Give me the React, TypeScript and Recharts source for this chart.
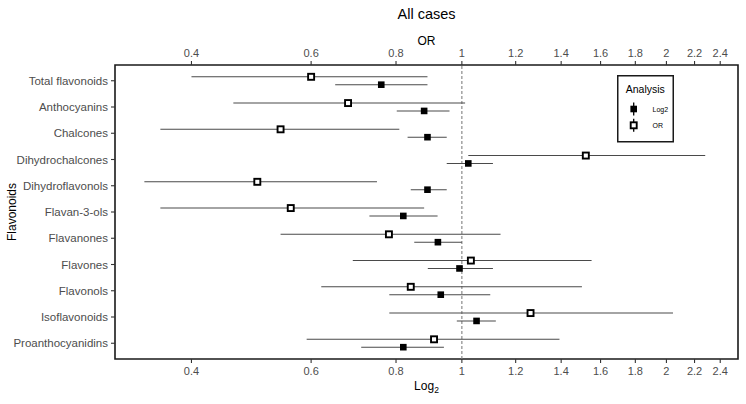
import React from 'react';
import {
  ScatterChart,
  Scatter,
  XAxis,
  YAxis,
  ErrorBar,
  ReferenceLine,
  ReferenceArea,
  Legend,
} from 'recharts';

const FONT = '"Liberation Sans", Arial, Helvetica, sans-serif';

const categories = [
  'Total flavonoids',
  'Anthocyanins',
  'Chalcones',
  'Dihydrochalcones',
  'Dihydroflavonols',
  'Flavan-3-ols',
  'Flavanones',
  'Flavones',
  'Flavonols',
  'Isoflavonoids',
  'Proanthocyanidins',
];

const orEstimate = [0.6, 0.68, 0.541, 1.522, 0.5, 0.56, 0.781, 1.031, 0.841, 1.262, 0.91];
const orLower = [0.4, 0.461, 0.36, 1.022, 0.341, 0.36, 0.541, 0.691, 0.621, 0.782, 0.591];
const orUpper = [0.89, 1.011, 0.809, 2.281, 0.75, 0.88, 1.14, 1.552, 1.502, 2.045, 1.392];

const log2Estimate = [0.761, 0.88, 0.89, 1.022, 0.89, 0.82, 0.922, 0.992, 0.931, 1.051, 0.82];
const log2Lower = [0.651, 0.802, 0.832, 0.95, 0.841, 0.731, 0.851, 0.891, 0.782, 0.983, 0.711];
const log2Upper = [0.89, 0.959, 0.95, 1.111, 0.95, 0.921, 1.0, 1.111, 1.101, 1.122, 0.941];

const xTicks = [0.4, 0.6, 0.8, 1, 1.2, 1.4, 1.6, 1.8, 2, 2.2, 2.4];
const xDomain = [0.3087, 2.549];
const seriesNames = ['Log2', 'OR'];

const yTicks = categories.map((_, i) => i);
const yDomain = [-0.6, categories.length - 0.4];

const build = (est: number[], lo: number[], hi: number[], dodge: number) =>
  est.map((v, i) => ({
    name: categories[i],
    x: v,
    y: i + dodge,
    err: [v - lo[i], hi[i] - v],
  }));

const orData = build(orEstimate, orLower, orUpper, -0.15);
const log2Data = build(log2Estimate, log2Lower, log2Upper, 0.15);

const OpenSquare = (props: any) => {
  const { cx, cy } = props;
  if (cx == null || cy == null) return null;
  return (
    <rect x={cx - 3} y={cy - 3} width={6} height={6} fill="#fff" stroke="#000" strokeWidth={1.9} />
  );
};

const FilledSquare = (props: any) => {
  const { cx, cy } = props;
  if (cx == null || cy == null) return null;
  return <rect x={cx - 3.3} y={cy - 3.3} width={6.6} height={6.6} fill="#000" />;
};

const renderLegend = () => (
  <svg width={58} height={68} style={{ display: 'block', overflow: 'visible' }}>
    <rect x={0.75} y={0.75} width={55.5} height={66} fill="#fff" stroke="#1a1a1a" strokeWidth={1.5} />
    <text x={28.3} y={17.9} textAnchor="middle" fontSize={10.5} fill="#000" fontFamily={FONT}>
      Analysis
    </text>
    {seriesNames.map((n, i) => {
      const cy = 34 + i * 16.3;
      return (
        <g key={n}>
          <line x1={16.7} x2={16.7} y1={cy - 6.5} y2={cy + 6.5} stroke="#000" strokeWidth={1.3} />
          {n === 'OR' ? (
            <rect x={16.7 - 3} y={cy - 3} width={6} height={6} fill="#fff" stroke="#000" strokeWidth={1.9} />
          ) : (
            <rect x={16.7 - 3.3} y={cy - 3.3} width={6.6} height={6.6} fill="#000" />
          )}
          <text x={35.5} y={cy + 2.5} fontSize={7} fill="#000" fontFamily={FONT}>
            {n}
          </text>
        </g>
      );
    })}
  </svg>
);

const BottomTitle = (props: any) => {
  const vb = props.viewBox || {};
  const cx = vb.x + vb.width / 2;
  return (
    <text x={cx} y={390} textAnchor="middle" fontSize={12} fill="#000" fontFamily={FONT}>
      <tspan>Log</tspan>
      <tspan fontSize={8.5} dy={3}>
        2
      </tspan>
    </text>
  );
};

const TopTitle = (props: any) => {
  const vb = props.viewBox || {};
  const cx = vb.x + vb.width / 2;
  return (
    <text x={cx} y={45} textAnchor="middle" fontSize={12} fill="#000" fontFamily={FONT}>
      OR
    </text>
  );
};

const LeftTitle = () => {
  const cy = 212;
  return (
    <text
      transform="rotate(-90)"
      x={-cy}
      y={15.5}
      textAnchor="middle"
      fontSize={12}
      fill="#000"
      fontFamily={FONT}
    >
      Flavonoids
    </text>
  );
};

const tickStyle = { fontSize: 11, fill: '#4d4d4d', fontFamily: FONT };
const yTickStyle = { fontSize: 11.5, fill: '#4d4d4d', fontFamily: FONT };

export default function App() {
  return (
    <div style={{ position: 'absolute', left: 0, top: 0, width: 746, height: 404, fontFamily: FONT, background: '#fff' }}>
      <div
        style={{
          position: 'absolute',
          left: 115,
          width: 623,
          top: 6,
          textAlign: 'center',
          fontSize: 14.5,
          lineHeight: '17px',
          color: '#000',
          fontFamily: FONT,
        }}
      >
        All cases
      </div>
      <ScatterChart width={746} height={404} margin={{ top: 35, right: 8, bottom: 15, left: 0 }}>
        <XAxis
          xAxisId="bottom"
          type="number"
          dataKey="x"
          scale="log"
          domain={xDomain}
          allowDataOverflow
          ticks={xTicks}
          interval={0}
          orientation="bottom"
          height={30}
          axisLine={false}
          tickSize={4}
          tickMargin={4}
          tickLine={{ stroke: '#333', strokeWidth: 1.1 }}
          tick={tickStyle}
          label={BottomTitle}
        />
        <XAxis
          xAxisId="top"
          type="number"
          dataKey="x"
          scale="log"
          domain={xDomain}
          allowDataOverflow
          ticks={xTicks}
          interval={0}
          orientation="top"
          height={30}
          axisLine={false}
          tickSize={4}
          tickMargin={4}
          tickLine={{ stroke: '#333', strokeWidth: 1.1 }}
          tick={tickStyle}
          label={TopTitle}
        />
        <YAxis
          type="number"
          dataKey="y"
          domain={yDomain}
          allowDataOverflow
          reversed
          ticks={yTicks}
          interval={0}
          width={115}
          axisLine={false}
          tickSize={4}
          tickMargin={3}
          tickLine={{ stroke: '#333', strokeWidth: 1.1 }}
          tick={yTickStyle}
          tickFormatter={(v: number) => categories[v] ?? ''}
          label={LeftTitle}
        />
        <ReferenceLine
          xAxisId="bottom"
          x={1}
          stroke="#808080"
          strokeWidth={1.1}
          strokeDasharray="3 2"
        />
        <Scatter
          name="Log2"
          xAxisId="bottom"
          data={log2Data}
          shape={FilledSquare}
          isAnimationActive={false}
          legendType="square"
        >
          <ErrorBar dataKey="err" direction="x" width={0} stroke="#4a4a4a" strokeWidth={1.1} />
        </Scatter>
        <Scatter
          name="OR"
          xAxisId="top"
          data={orData}
          shape={OpenSquare}
          isAnimationActive={false}
          legendType="square"
        >
          <ErrorBar dataKey="err" direction="x" width={0} stroke="#4a4a4a" strokeWidth={1.1} />
        </Scatter>
        <ReferenceArea
          xAxisId="bottom"
          x1={xDomain[0]}
          x2={xDomain[1]}
          y1={yDomain[0]}
          y2={yDomain[1]}
          fill="none"
          fillOpacity={0}
          stroke="#1a1a1a"
          strokeWidth={1.6}
          ifOverflow="visible"
        />
        <Legend
          layout="vertical"
          verticalAlign="middle"
          align="center"
          content={renderLegend}
          wrapperStyle={{ left: 617, top: 75, width: 58, height: 68 }}
        />
      </ScatterChart>
    </div>
  );
}
